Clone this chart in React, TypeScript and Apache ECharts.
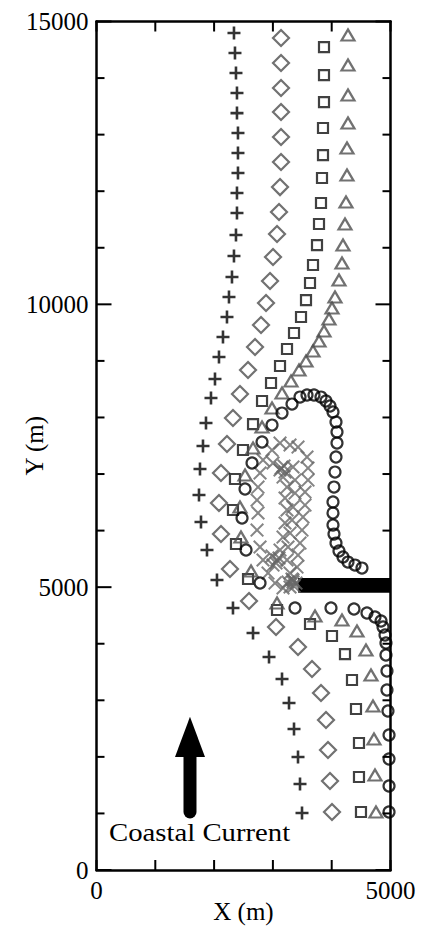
import React, { useEffect, useRef } from "react";
import * as echarts from "echarts";

// Particle trajectories (X m, Y m)
const plusPts = [[2338,14796],[2355,14442],[2372,14089],[2389,13735],[2389,13381],[2406,13028],[2406,12674],[2406,12321],[2389,11967],[2389,11614],[2372,11225],[2338,10854],[2304,10482],[2253,10129],[2219,9775],[2151,9422],[2083,9068],[2015,8679],[1947,8344],[1862,7902],[1811,7495],[1760,7088],[1743,6629],[1777,6152],[1879,5657],[2049,5126],[2321,4631],[2662,4189],[2934,3765],[3155,3376],[3274,2952],[3359,2492],[3427,1998],[3461,1520],[3495,1008]];
const diamondPts = [[3138,14708],[3138,14266],[3138,13824],[3138,13399],[3138,12957],[3138,12515],[3121,12073],[3104,11632],[3070,11243],[3002,10836],[2951,10412],[2883,10023],[2798,9634],[2696,9245],[2577,8839],[2440,8414],[2321,7990],[2219,7531],[2117,7018],[2083,6487],[2117,5939],[2270,5321],[2594,4755],[3053,4295],[3427,3942],[3665,3553],[3818,3129],[3903,2652],[3937,2121],[3971,1573],[4005,1025]];
const squarePts = [[3869,14548],[3869,14053],[3869,13576],[3852,13117],[3852,12639],[3835,12233],[3818,11791],[3784,11420],[3750,11048],[3682,10695],[3631,10377],[3563,10076],[3478,9776],[3359,9493],[3240,9210],[3121,8910],[2968,8609],[2815,8291],[2662,7884],[2491,7425],[2355,6912],[2321,6364],[2372,5763],[2577,5144],[3070,4596],[3631,4349],[4005,4137],[4226,3818],[4345,3359],[4413,2846],[4464,2245],[4464,1644],[4498,1025]];
const trianglePts = [[4277,14761],[4277,14231],[4277,13700],[4277,13205],[4260,12763],[4260,12286],[4243,11809],[4226,11420],[4192,11048],[4175,10730],[4124,10430],[4056,10129],[4005,9935],[3954,9740],[3869,9528],[3784,9351],[3682,9175],[3563,8998],[3444,8839],[3308,8644],[3155,8432],[2985,8167],[2815,7831],[2662,7460],[2526,6983],[2440,6417],[2457,5887],[2628,5286],[3070,4720],[3716,4490],[4175,4419],[4430,4225],[4583,3889],[4668,3447],[4702,2899],[4719,2316],[4736,1679],[4753,1025]];
const circlePts = [[4975,1025],[4975,1485],[4975,1962],[4975,2386],[4957,2811],[4940,3182],[4940,3518],[4923,3801],[4923,4013],[4907,4154],[4873,4296],[4839,4402],[4736,4472],[4600,4543],[4379,4614],[3988,4631],[3376,4631],[2781,5073],[2543,5657],[2475,6222],[2526,6735],[2645,7195],[2815,7566],[2985,7866],[3155,8078],[3325,8237],[3461,8361],[3580,8397],[3699,8397],[3818,8361],[3903,8291],[3971,8202],[4022,8096],[4073,7919],[4090,7743],[4090,7548],[4073,7301],[4056,7035],[4039,6770],[4022,6505],[4022,6311],[4022,6099],[4039,5939],[4073,5780],[4124,5639],[4192,5533],[4277,5444],[4396,5391],[4515,5338]];
const crossPts = [[2985,7424],[3121,7548],[3291,7513],[3427,7477],[3580,7301],[3597,7106],[3597,6894],[3546,6682],[3546,6452],[3512,6240],[3495,6010],[3461,5780],[3427,5568],[3410,5356],[3342,5126],[2832,7248],[2781,7018],[2747,6770],[2730,6540],[2747,6311],[2730,6010],[2781,5710],[2832,5480],[2917,5250],[3036,5073],[3172,4985],[3291,5003],[3002,7195],[3121,7071],[3172,6947],[3240,6770],[3206,6576],[3240,6364],[3206,6134],[3172,5886],[3121,5657],[3070,5480],[3342,7124],[3376,6894],[3376,6664],[3342,6417],[3325,6187],[3291,5957],[3257,5710],[3240,5480],[3291,5250],[3342,5091],[3138,7106],[3206,7035],[3189,7142],[2985,5551],[3053,5427],[3104,5515],[3002,5391],[3257,5091],[3359,5020],[3325,5144],[3393,5073]];

// Breakwater (X range, Y range) and current arrow
const breakwaterX = [3430, 5000];
const breakwaterY = [4900, 5160];
const arrowX = 1590;
const arrowY = [1025, 1997, 2710]; // tail, neck, tip

// Axis ticks
const xRange = [0, 5000];
const yRange = [0, 15000];
const xTickVals = [0, 1000, 2000, 3000, 4000, 5000];
const xLabelVals = [0, 5000];
const yMajorVals = [0, 5000, 10000, 15000];
const yMinorVals = [1000, 2000, 3000, 4000, 6000, 7000, 8000, 9000, 11000, 12000, 13000, 14000];

const serif = "'Liberation Serif', 'Times New Roman', serif";
const PLUS = "path://M4,0H6V4H10V6H6V10H4V6H0V4H4Z";
const XMARK = "path://M1,0L5,4L9,0L10,1L6,5L10,9L9,10L5,6L1,10L0,9L4,5L0,1Z";

export default function App() {
  const ref = useRef<HTMLDivElement>(null);
  useEffect(() => {
    const chart = echarts.init(ref.current!, null, { renderer: "svg" });
    const mkAxisLine = () => ({ show: true, onZero: false, lineStyle: { color: "#000", width: 2.5 } });
    const xBase = () => ({
      type: "value", min: xRange[0], max: xRange[1], interval: 1000,
      axisLine: mkAxisLine(), splitLine: { show: false }, axisTick: { show: false },
    });
    const yBase = () => ({
      type: "value", min: yRange[0], max: yRange[1], interval: 5000,
      axisLine: mkAxisLine(), splitLine: { show: false }, axisTick: { show: false },
      minorTick: { show: false }, minorSplitLine: { show: false },
    });
    const hollow = (c: string, w = 2) => ({ color: "rgba(0,0,0,0)", borderColor: c, borderWidth: w });
    chart.setOption({
      animation: false,
      backgroundColor: "#fff",
      grid: { left: 96.5, right: 32.5, top: 21.5, bottom: 56, outerBoundsMode: "none" },
      xAxis: [
        {
          ...xBase(), position: "bottom",
          name: "X (m)", nameLocation: "middle", nameGap: 41, nameMoveOverlap: false,
          nameTextStyle: { fontFamily: serif, fontSize: 25, color: "#000", verticalAlign: "middle" },
          axisLabel: {
            fontFamily: serif, fontSize: 25, color: "#000", margin: 8,
            formatter: (v: number) => (xLabelVals.includes(v) ? String(v) : ""),
          },
        },
        { ...xBase(), position: "top", axisLabel: { show: false } },
      ],
      yAxis: [
        {
          ...yBase(), position: "left",
          name: "Y (m)", nameLocation: "middle", nameGap: 62, nameMoveOverlap: false,
          nameTextStyle: { fontFamily: serif, fontSize: 25, color: "#000", verticalAlign: "middle" },
          axisLabel: { fontFamily: serif, fontSize: 25, color: "#000", margin: 8, formatter: (v: number) => String(v) },
        },
        { ...yBase(), position: "right", axisLabel: { show: false } },
      ],
      series: [
        {
          type: "custom", name: "breakwater", data: [[breakwaterX[0], breakwaterY[0]]],
          renderItem: (_p: any, api: any) => {
            const a = api.coord([breakwaterX[0], breakwaterY[1]]);
            const b = api.coord([breakwaterX[1], breakwaterY[0]]);
            return { type: "rect", shape: { x: a[0], y: a[1], width: b[0] - a[0], height: b[1] - a[1] }, style: { fill: "#000" } };
          },
          z: 1,
        },
        {
          type: "custom", name: "arrow", data: [[arrowX, arrowY[0]]],
          renderItem: (_p: any, api: any) => {
            const t = api.coord([arrowX, arrowY[0]]);
            const n = api.coord([arrowX, arrowY[1]]);
            const h = api.coord([arrowX, arrowY[2]]);
            return {
              type: "group",
              children: [
                { type: "line", shape: { x1: t[0], y1: t[1], x2: n[0], y2: n[1] }, style: { stroke: "#000", lineWidth: 13, lineCap: "round" } },
                { type: "polygon", shape: { points: [[h[0], h[1]], [n[0] - 15, n[1]], [n[0] + 15, n[1]]] }, style: { fill: "#000" } },
              ],
            };
          },
        },
        { type: "scatter", name: "cross", data: crossPts, symbol: XMARK, symbolSize: 14, itemStyle: { color: "#666" }, z: 2 },
        { type: "scatter", name: "plus", data: plusPts, symbol: PLUS, symbolSize: 13, itemStyle: { color: "#000" }, z: 3 },
        { type: "scatter", name: "diamond", data: diamondPts, symbol: "diamond", symbolSize: 16, itemStyle: hollow("#4d4d4d", 2.2), z: 3 },
        { type: "scatter", name: "square", data: squarePts, symbol: "rect", symbolSize: 10, itemStyle: hollow("#111", 2.2), z: 3 },
        { type: "scatter", name: "triangle", data: trianglePts, symbol: "triangle", symbolSize: [13, 11], itemStyle: hollow("#4d4d4d", 2.2), z: 3 },
        { type: "scatter", name: "circle", data: circlePts, symbol: "circle", symbolSize: 11, itemStyle: hollow("#000", 2.2), z: 4 },
      ],
    });

    // Tick marks placed through the chart's own scales (inward ticks on all four sides)
    const px = (x: number, y: number) => chart.convertToPixel({ gridIndex: 0 }, [x, y]) as number[];
    const TW = 2;
    const ticks: any[] = [];
    xTickVals.forEach((v) => {
      const b = px(v, yRange[0]);
      const t = px(v, yRange[1]);
      ticks.push({ type: "rect", z: 100, shape: { x: b[0] - TW / 2, y: b[1] - 10, width: TW, height: 10 }, style: { fill: "#000" } });
      ticks.push({ type: "rect", z: 100, shape: { x: t[0] - TW / 2, y: t[1], width: TW, height: 10 }, style: { fill: "#000" } });
    });
    const addY = (vals: number[], len: number) =>
      vals.forEach((v) => {
        const l = px(xRange[0], v);
        const r = px(xRange[1], v);
        ticks.push({ type: "rect", z: 100, shape: { x: l[0], y: l[1] - TW / 2, width: len, height: TW }, style: { fill: "#000" } });
        ticks.push({ type: "rect", z: 100, shape: { x: r[0] - len, y: r[1] - TW / 2, width: len, height: TW }, style: { fill: "#000" } });
      });
    addY(yMajorVals, 15);
    addY(yMinorVals, 8);
    const cc = px(xRange[0], arrowY[0]);
    chart.setOption({
      graphic: [
        ...ticks,
        { type: "text", z: 100, x: 109, y: cc[1] + 21, scaleX: 1.15, style: { text: "Coastal Current", fontFamily: serif, fontSize: 25, fill: "#000", verticalAlign: "middle" } },
      ],
    });
    return () => chart.dispose();
  }, []);
  return <div ref={ref} style={{ position: "fixed", left: 0, top: 0, width: 423, height: 926 }} />;
}
